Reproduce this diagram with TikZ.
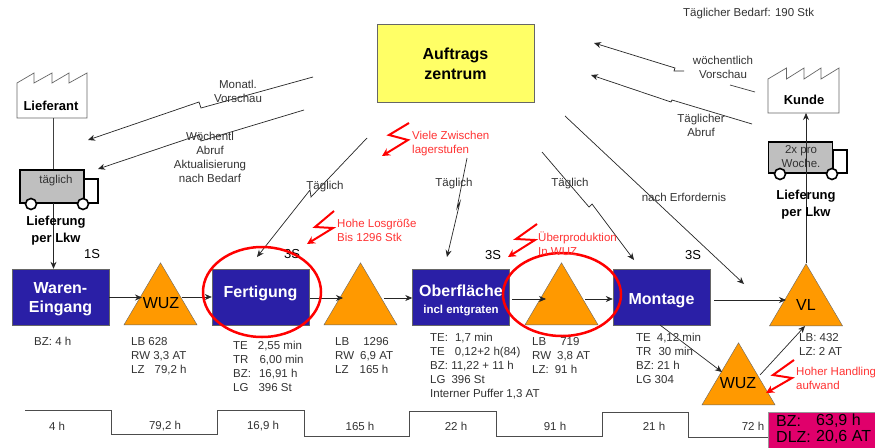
\documentclass[tikz,border=0pt]{standalone}
\usepackage{fontspec}
\setmainfont{Liberation Sans}
\usetikzlibrary{arrows.meta,shapes.geometric}
\definecolor{blueb}{HTML}{2A1FA6}
\definecolor{orangeb}{HTML}{FF9900}
\definecolor{yellowb}{HTML}{FFFF66}
\definecolor{magb}{HTML}{E0006B}
\definecolor{txt}{HTML}{333333}
\definecolor{redt}{HTML}{FF3333}
\tikzset{
  x=1pt,y=-1pt,
  flow/.style={draw=black!85,line width=0.7pt,-{Stealth[length=7pt,width=6pt]}},
  plainline/.style={draw=black!75,line width=0.7pt},
  procbox/.style={draw=black!60,fill=blueb,text=white,font=\fontsize{16}{19}\selectfont\bfseries,minimum width=97pt,minimum height=56pt,inner sep=0pt,align=center},
  stock/.style={isosceles triangle,isosceles triangle stretches,shape border rotate=90,draw=black!60,fill=orangeb,minimum width=73pt,minimum height=62pt,inner sep=0pt,anchor=lower side},
  factory/.style={draw=black!60,fill=white,line width=0.7pt},
  lab/.style={text=txt,font=\fontsize{11.5}{14}\selectfont,inner sep=0pt,align=center},
  info/.style={text=txt,font=\fontsize{11.5}{14}\selectfont,inner sep=0pt,align=left,anchor=north west},
  redlab/.style={text=redt,font=\fontsize{11.5}{14}\selectfont,inner sep=0pt,align=left,anchor=north west},
  boldlab/.style={font=\fontsize{13}{17}\selectfont\bfseries,text=black,inner sep=0pt,align=center},
  big/.style={font=\fontsize{16}{19}\selectfont,text=black,inner sep=0pt},
  seven/.style={font=\fontsize{13}{15}\selectfont,text=black,inner sep=0pt},
  bolt/.style={draw=red,line width=2pt,-{Stealth[length=8pt,width=8pt]}},
  loop/.style={draw=red,line width=2.5pt},
  cabin/.style={draw=black,line width=1.6pt,fill=white},
  body/.style={draw=black,line width=1.6pt,fill=black!25,inner sep=0pt,font=\fontsize{11.5}{14}\selectfont,text=txt,align=center},
  wheel/.style={circle,draw=black,line width=1.6pt,fill=white,minimum size=11pt,inner sep=0pt},
  step line/.style={draw=black!70,line width=0.8pt}
}
\begin{document}
\begin{tikzpicture}
\useasboundingbox (0,0) rectangle (875,447);
\fill[white] (0,0) rectangle (875,447);

% free ends of information lines
\coordinate (m1) at (313,77);\coordinate (m2) at (201,108);\coordinate (m3) at (199,102);\coordinate (m4) at (88,140);
\coordinate (w1) at (304,110);\coordinate (w2) at (201,141);\coordinate (w3) at (199,135);\coordinate (w4) at (98,169);
\coordinate (t1) at (367,138);\coordinate (t2) at (311,197);\coordinate (t3) at (310,190);\coordinate (t4) at (257,257);
\coordinate (u1) at (467,158);\coordinate (u2) at (457,208);\coordinate (u3) at (460,202);\coordinate (u4) at (447,257);
\coordinate (v1) at (542,152);\coordinate (v2) at (589,207);\coordinate (v3) at (592,204);\coordinate (v4) at (634,260);
\coordinate (e1) at (565,116);\coordinate (e2) at (744,284);
\coordinate (k1) at (755,92);\coordinate (k2) at (730,85);\coordinate (k3) at (684,71);\coordinate (k4) at (674,71);\coordinate (k5) at (675,68);\coordinate (k6) at (594,43);
\coordinate (a1) at (752,124);\coordinate (a2) at (672,100);\coordinate (a3) at (671,102);\coordinate (a4) at (591,75);

% order centre
\node[draw=black!60,line width=0.8pt,fill=yellowb,minimum width=157pt,minimum height=78pt,inner sep=0pt,align=center,font=\fontsize{16}{20}\selectfont\bfseries] (centre) at (455.5,63) {\rule{0pt}{14pt}Auftrags\\zentrum};

% factories
\draw[factory] (17,83)--(34,73)--(34,83)--(52,73)--(52,83)--(69,73)--(69,83)--(87,73)--(87,118)--(17,118)--cycle;
\node[boldlab] (lief) at (51,105.5) {Lieferant};
\coordinate (liefb) at (53,118);
\draw[factory] (768,79)--(786.5,68)--(786.5,79)--(804,68)--(804,79)--(821,68)--(821,79)--(839,68)--(839,113)--(768,113)--cycle;
\node[boldlab] (kunde) at (804,100) {Kunde};
\coordinate (kundeb) at (806,113);

% process boxes
\node[procbox] (ware) at (60.5,297) {\rule{0pt}{15.5pt}Waren-\\Eingang};
\node[procbox,text depth=11.5pt] (fert) at (260.5,297) {Fertigung};
\node[procbox] (ober) at (461,297) {\rule{0pt}{18.6pt}Oberfläche\\[-2pt]{\fontsize{11.5}{13}\selectfont incl entgraten}};
\node[procbox,text height=18pt] (mont) at (661.5,297) {Montage};

% stocks
\node[stock] (s1) at (160.5,325) {};
\node[stock] (s2) at (360.5,325) {};
\node[stock] (s3) at (561.5,325) {};
\node[stock] (vl) at (806,326) {};
\node[stock] (s4) at (738.5,405) {};
\node[big] (s1t) at (161,303) {WUZ};
\node[big] (vlt) at (806,305) {VL};
\node[big] (s4t) at (738,383) {WUZ};

% trucks
\draw[plainline] (liefb) -- (53,170);
\draw[cabin] (84,179) rectangle (98,203);
\node[body,minimum width=64pt,minimum height=33pt] (truck1) at (52,186.5) {};
\node[wheel] (w1a) at (31,204) {};
\node[wheel] (w1b) at (83,204) {};
\node[lab] (truck1t) at (56,181) {täglich};
\draw[cabin] (833,150) rectangle (847,173);
\node[body,minimum width=64pt,minimum height=31pt] (truck2) at (800.5,157.5) {};
\node[wheel] (w2a) at (780,174) {};
\node[wheel] (w2b) at (832,174) {};
\node[lab] (truck2t) at (801,157) {2x pro\\Woche.};
\draw[flow] (53.5,203) -- (ware.north -| 53.5,0);
\draw[flow] (vl.apex) -- (kundeb);

% flow connectors
\draw[flow] (ware.east |- 0,297.5) -- (142,297.5);
\draw[flow] (182,297) -- (fert.west |- 0,297);
\draw[flow] (310,298) -- (343,298);
\draw[flow] (384,298) -- (ober.west |- 0,298);
\draw[flow] (512,299) -- (546,299);
\draw[flow] (585,299) -- (mont.west |- 0,299);
\draw[flow] (714,300) -- (786,300);
\draw[flow] (660,325) -- (722,372);
\draw[flow] (760,375) -- (805,326);

% information lines
\draw[flow] (m1)--(m2)--(m3)--(m4);
\draw[flow] (w1)--(w2)--(w3)--(w4);
\draw[flow] (t1)--(t2)--(t3)--(t4);
\draw[flow] (u1)--(u2)--(u3)--(u4);
\draw[flow] (v1)--(v2)--(v3)--(v4);
\draw[flow] (e1)--(e2);
\draw[plainline] (k1)--(k2);
\draw[flow] (k3)--(k4)--(k5)--(k6);
\draw[flow] (a1)--(a2)--(a3)--(a4);

% labels of information lines
\node[lab] (l1) at (238,91) {Monatl.\\Vorschau};
\node[lab] (l2) at (210,157) {Wöchentl\\Abruf\\Aktualisierung\\nach Bedarf};
\node[lab] (l3) at (325,187) {Täglich};
\node[lab] (l4) at (454,184) {Täglich};
\node[lab] (l5) at (570,184) {Täglich};
\node[lab] (l6) at (684,197) {nach Erfordernis};
\node[lab] (l7) at (723,67) {wöchentlich\\Vorschau};
\node[lab] (l8) at (701,125) {Täglicher\\Abruf};
\node[info] (need) at (683,8) {Täglicher Bedarf: 190 Stk};

\node[boldlab] (lk1) at (56,230.5) {Lieferung\\per Lkw};
\node[boldlab] (lk2) at (806,204.5) {Lieferung\\per Lkw};
\node[seven] (n1) at (92,254) {1S};
\node[seven] (n2) at (292,254) {3S};
\node[seven] (n3) at (493,255) {3S};
\node[seven] (n4) at (693,255) {3S};

% data
\node[info] (d1) at (34,337) {BZ: 4 h};
\node[info] (d2) at (131,337) {LB 628\\RW 3,3 AT\\LZ\hspace{10pt}79,2 h};
\node[info] (d3) at (233,341) {TE\hspace{10pt}2,55 min\\TR\hspace{11pt}6,00 min\\BZ:\hspace{8pt}16,91 h\\LG\hspace{10pt}396 St};
\node[info] (d4) at (335,337) {LB\hspace{14pt}1296\\RW\hspace{6pt}6,9 AT\\LZ\hspace{11pt}165 h};
\node[info] (d5) at (430,333) {TE:\hspace{7pt}1,7 min\\TE\hspace{10pt}0,12+2 h(84)\\BZ: 11,22 + 11 h\\LG\hspace{6pt}396 St\\Interner Puffer\hspace{3pt}1,3 AT};
\node[info] (d6) at (532,337) {LB\hspace{14pt}719\\RW\hspace{6pt}3,8 AT\\LZ:\hspace{6pt}91 h};
\node[info] (d7) at (636,333) {TE\hspace{6pt}4,12 min\\TR\hspace{7pt}30 min\\BZ: 21 h\\LG 304};
\node[info] (d8) at (799,333) {LB: 432\\LZ:\hspace{3pt}2 AT};

% timeline
\draw[step line] (25,410)--(111,410)--(111,434)--(217,434)--(217,410)--(304,410)--(304,436)--(409,436)--(409,411)--(496,411)--(496,436)--(602,436)--(602,412)--(688,412)--(688,437)--(768,437);
\node[lab] (z1) at (57,426) {4 h};
\node[lab] (z2) at (165,426) {79,2 h};
\node[lab] (z3) at (263,426) {16,9 h};
\node[lab] (z4) at (360,426) {165 h};
\node[lab] (z5) at (456,426) {22 h};
\node[lab] (z6) at (555,426) {91 h};
\node[lab] (z7) at (654,426) {21 h};
\node[lab] (z8) at (753,426) {72 h};
\fill[magb,draw=black!40] (768,412) rectangle (876,448);
\node[big,anchor=west] (tot1) at (776,421) {BZ:};
\node[big,anchor=west] (tot2) at (816,421) {63,9 h};
\node[big,anchor=west] (tot3) at (776,437) {DLZ:};
\node[big,anchor=west] (tot4) at (816,437) {20,6 AT};

% red ellipses
\node[loop,ellipse,minimum width=118pt,minimum height=90pt,inner sep=0pt] (ring1) at (262,292) {};
\node[loop,ellipse,minimum width=118pt,minimum height=83pt,inner sep=0pt] (ring2) at (562,294.5) {};

% red bolts and notes
\draw[bolt] (409,123)--(389,135)--(408,140)--(382,156);
\draw[bolt] (334,211)--(315,227)--(333,228)--(307,244);
\draw[bolt] (537,224)--(516,239)--(535,240)--(508,257);
\draw[bolt] (794,360)--(773,375)--(792,378)--(766,393);
\node[redlab] (r1) at (412,131) {Viele Zwischen\\lagerstufen};
\node[redlab] (r2) at (337,219) {Hohe Losgröße\\Bis 1296 Stk};
\node[redlab] (r3) at (538,232) {Überproduktion\\In WUZ};
\node[redlab] (r4) at (796,367) {Hoher Handling\\aufwand};
\end{tikzpicture}
\end{document}
